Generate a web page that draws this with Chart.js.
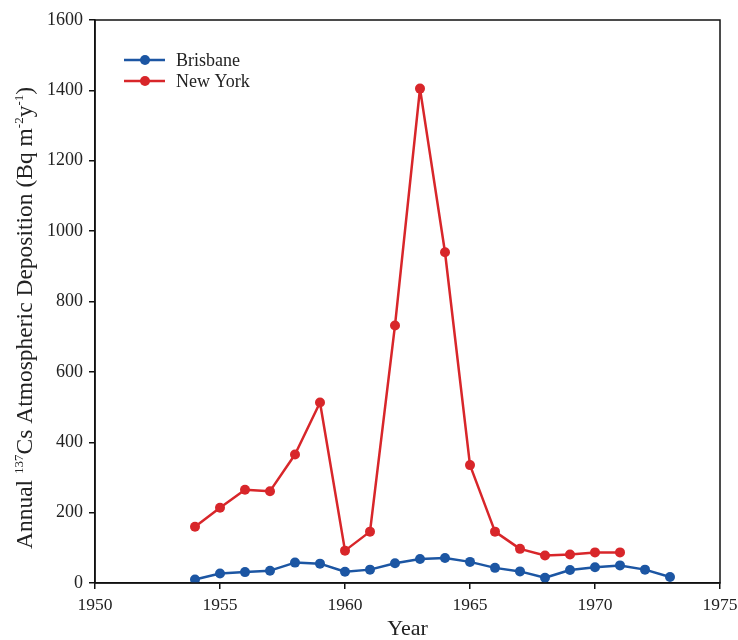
<!DOCTYPE html>
<html>
<head>
<meta charset="utf-8">
<script src="https://cdn.jsdelivr.net/npm/chart.js@4/dist/chart.umd.min.js"></script>
<style>
  html, body { margin: 0; padding: 0; background: #fff; }
  #wrap { width: 738px; height: 640px; }
</style>
</head>
<body>
<div id="wrap"><canvas id="c" width="738" height="640"></canvas></div>
<script>
// Annual 137Cs atmospheric deposition (Bq m-2 y-1)
const brisbaneYears  = [1954, 1955, 1956, 1957, 1958, 1959, 1960, 1961, 1962, 1963, 1964, 1965, 1966, 1967, 1968, 1969, 1970, 1971, 1972, 1973];
const brisbaneValues = [10, 27, 31, 35, 58, 55, 32, 38, 56, 68, 71, 60, 43, 33, 15, 37, 45, 50, 38, 17];
const newYorkYears   = [1954, 1955, 1956, 1957, 1958, 1959, 1960, 1961, 1962, 1963, 1964, 1965, 1966, 1967, 1968, 1969, 1970, 1971];
const newYorkValues  = [160, 214, 265, 261, 365, 513, 92, 146, 732, 1405, 940, 335, 146, 97, 78, 81, 87, 87];
const xTickValues = [1950, 1955, 1960, 1965, 1970, 1975];
const yTickValues = [0, 200, 400, 600, 800, 1000, 1200, 1400, 1600];

const seriesNames = ['Brisbane', 'New York'];
const BLUE = '#1c56a3';
const RED = '#d8262a';
const INK = '#222';
const SERIF = '"Liberation Serif", "Times New Roman", serif';

const toPoints = (xs, ys) => xs.map((x, i) => ({ x: x, y: ys[i] }));

// Box round the plotting area
const frame = {
  id: 'frame',
  afterDraw(chart) {
    const a = chart.chartArea, ctx = chart.ctx;
    ctx.save();
    ctx.strokeStyle = '#111';
    ctx.lineWidth = 1.5;
    ctx.strokeRect(a.left, a.top, a.right - a.left, a.bottom - a.top);
    ctx.restore();
  }
};

// Legend drawn inside the plotting area, top left
const innerLegend = {
  id: 'innerLegend',
  afterDatasetsDraw(chart) {
    const ctx = chart.ctx;
    ctx.save();
    chart.data.datasets.forEach((ds, i) => {
      const y = 60 + i * 21;
      ctx.strokeStyle = ds.borderColor;
      ctx.lineWidth = 2.5;
      ctx.beginPath();
      ctx.moveTo(124, y);
      ctx.lineTo(165, y);
      ctx.stroke();
      ctx.fillStyle = ds.backgroundColor;
      ctx.beginPath();
      ctx.arc(145, y, 5, 0, Math.PI * 2);
      ctx.fill();
      ctx.fillStyle = INK;
      ctx.font = '18px ' + SERIF;
      ctx.textBaseline = 'middle';
      ctx.textAlign = 'left';
      ctx.fillText(ds.label, 176, y + 1);
    });
    ctx.restore();
  }
};

// Rotated y-axis title with superscripts
const yTitle = {
  id: 'yTitle',
  afterDraw(chart) {
    const ctx = chart.ctx;
    const parts = [
      ['Annual ', false], ['137', true], ['Cs Atmospheric Deposition (Bq m', false],
      ['-2', true], ['y', false], ['-1', true], [')', false]
    ];
    const big = '23.5px ' + SERIF, small = '13px ' + SERIF;
    let total = 0;
    parts.forEach(p => { ctx.font = p[1] ? small : big; total += ctx.measureText(p[0]).width; });
    ctx.save();
    ctx.translate(32, 318);
    ctx.rotate(-Math.PI / 2);
    ctx.fillStyle = INK;
    ctx.textBaseline = 'alphabetic';
    ctx.textAlign = 'left';
    let x = -total / 2;
    parts.forEach(p => {
      ctx.font = p[1] ? small : big;
      ctx.fillText(p[0], x, p[1] ? -9 : 0);
      x += ctx.measureText(p[0]).width;
    });
    ctx.restore();
  }
};

const lineStyle = { borderWidth: 2.5, pointRadius: 5, pointBorderWidth: 0, tension: 0, borderJoinStyle: 'round' };

new Chart(document.getElementById('c'), {
  type: 'line',
  data: {
    datasets: [
      Object.assign({ label: seriesNames[0], data: toPoints(brisbaneYears, brisbaneValues),
                      borderColor: BLUE, backgroundColor: BLUE }, lineStyle),
      Object.assign({ label: seriesNames[1], data: toPoints(newYorkYears, newYorkValues),
                      borderColor: RED, backgroundColor: RED }, lineStyle)
    ]
  },
  options: {
    responsive: false,
    animation: false,
    devicePixelRatio: 1,
    layout: { padding: { left: 0, top: 20, right: 18, bottom: 0 } },
    plugins: { legend: { display: false }, tooltip: { enabled: false } },
    scales: {
      x: {
        type: 'linear',
        min: xTickValues[0], max: xTickValues[xTickValues.length - 1],
        afterBuildTicks(scale) { scale.ticks = xTickValues.map(v => ({ value: v })); },
        afterFit(scale) { scale.height = 57; scale.paddingRight = 0; scale.paddingLeft = 0; },
        border: { display: true, color: '#111', width: 1.5 },
        grid: { drawOnChartArea: false, drawTicks: true, tickLength: 6, color: '#111', lineWidth: 1.5 },
        ticks: { color: INK, font: { family: SERIF, size: 17.5 }, padding: 6, maxRotation: 0,
                 callback: v => String(v) },
        title: { display: true, text: 'Year', color: INK, font: { family: SERIF, size: 22, lineHeight: 1.0 },
                 padding: { top: 0, bottom: 0 } }
      },
      y: {
        type: 'linear',
        min: yTickValues[0], max: yTickValues[yTickValues.length - 1],
        afterBuildTicks(scale) { scale.ticks = yTickValues.map(v => ({ value: v })); },
        afterFit(scale) { scale.width = 95; },
        border: { display: true, color: '#111', width: 1.5 },
        grid: { drawOnChartArea: false, drawTicks: true, tickLength: 6, color: '#111', lineWidth: 1.5 },
        ticks: { color: INK, font: { family: SERIF, size: 18 }, padding: 6,
                 callback: v => String(v) }
      }
    }
  },
  plugins: [frame, innerLegend, yTitle]
});
</script>
</body>
</html>
